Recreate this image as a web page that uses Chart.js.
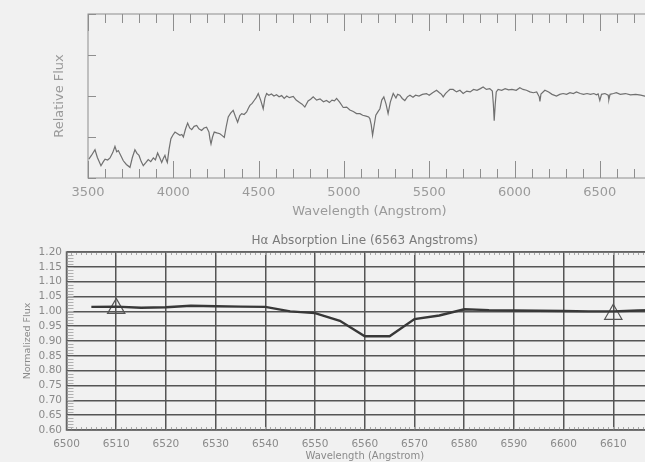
<!DOCTYPE html>
<html lang="en">
<head>
<meta charset="UTF-8">
<title>Spectrum and H-alpha line</title>
<script src="https://cdn.jsdelivr.net/npm/chart.js"></script>
<style>
    html, body { margin: 0; padding: 0; background: #f1f1f1; overflow: hidden; }
    body { width: 645px; height: 462px; position: relative; }
    canvas { position: absolute; left: 0; }
    #specChart { top: 0; }
    #haChart { top: 226px; }
</style>
</head>
<body>
<canvas id="specChart" width="660" height="226"></canvas>
<canvas id="haChart" width="700" height="236"></canvas>
<script>
// full spectrum (wavelength in Angstrom, relative flux)
const specWave = [
    3505, 3520, 3541, 3555, 3576, 3590, 3600, 3615, 3629, 3645,
    3658, 3668, 3678, 3692, 3707, 3725, 3746, 3760, 3775, 3787,
    3799, 3812, 3824, 3840, 3853, 3868, 3883, 3895, 3908, 3920,
    3932, 3942, 3951, 3958, 3965, 3975, 3986, 3998, 4010, 4025,
    4039, 4050, 4059, 4072, 4084, 4096, 4108, 4122, 4137, 4150,
    4166, 4180, 4195, 4209, 4215, 4221, 4230, 4240, 4255, 4273,
    4285, 4299, 4310, 4322, 4336, 4351, 4364, 4377, 4390, 4401,
    4415, 4430, 4440, 4449, 4462, 4474, 4486, 4498, 4512, 4527,
    4537, 4547, 4560, 4575, 4590, 4605, 4620, 4635, 4650, 4665,
    4680, 4703, 4720, 4740, 4755, 4771, 4790, 4805, 4820, 4840,
    4860, 4880, 4898, 4915, 4930, 4945, 4957, 4975, 4996, 5016,
    5035, 5055, 5074, 5094, 5110, 5130, 5145, 5152, 5160, 5168,
    5176, 5187, 5200, 5211, 5222, 5234, 5247, 5259, 5272, 5289,
    5305, 5315, 5328, 5342, 5357, 5372, 5387, 5405, 5420, 5440,
    5460, 5484, 5500, 5520, 5543, 5560, 5572, 5582, 5595, 5610,
    5621, 5640, 5660, 5680, 5699, 5720, 5740, 5760, 5780, 5800,
    5816, 5835, 5855, 5870, 5876, 5881, 5887, 5893, 5904, 5925,
    5945, 5965, 5985, 6010, 6031, 6050, 6070, 6090, 6110, 6130,
    6145, 6149, 6155, 6178, 6200, 6220, 6246, 6265, 6285, 6305,
    6325, 6345, 6363, 6385, 6405, 6425, 6445, 6465, 6480, 6490,
    6500, 6510, 6530, 6549, 6553, 6560, 6580, 6597, 6620, 6650,
    6680, 6710, 6740, 6770, 6800
];
const specFlux = [
    0.46, 0.55, 0.69, 0.50, 0.30, 0.40, 0.46, 0.44, 0.49, 0.62,
    0.77, 0.64, 0.67, 0.55, 0.42, 0.33, 0.26, 0.50, 0.69, 0.60,
    0.55, 0.40, 0.30, 0.38, 0.45, 0.40, 0.49, 0.44, 0.61, 0.50,
    0.38, 0.48, 0.55, 0.45, 0.38, 0.70, 0.96, 1.05, 1.12, 1.08,
    1.04, 1.06, 1.00, 1.20, 1.34, 1.22, 1.18, 1.26, 1.28, 1.20,
    1.16, 1.22, 1.24, 1.12, 0.95, 0.83, 1.00, 1.12, 1.10, 1.08,
    1.04, 0.99, 1.25, 1.49, 1.58, 1.65, 1.50, 1.36, 1.52, 1.57,
    1.55, 1.61, 1.70, 1.77, 1.82, 1.89, 1.96, 2.06, 1.90, 1.69,
    1.95, 2.06, 2.02, 2.05, 2.00, 2.03, 1.98, 2.01, 1.94, 2.00,
    1.96, 1.99, 1.90, 1.84, 1.80, 1.73, 1.88, 1.92, 1.98, 1.90,
    1.93, 1.86, 1.89, 1.84, 1.90, 1.88, 1.94, 1.85, 1.72, 1.73,
    1.66, 1.62, 1.57, 1.57, 1.53, 1.51, 1.49, 1.45, 1.30, 1.04,
    1.25, 1.53, 1.62, 1.69, 1.90, 1.98, 1.80, 1.57, 1.85, 2.06,
    1.95, 2.04, 2.02, 1.94, 1.89, 1.98, 2.02, 1.97, 2.02, 2.00,
    2.04, 2.06, 2.02, 2.08, 2.14, 2.08, 2.04, 1.98, 2.06, 2.12,
    2.16, 2.16, 2.10, 2.14, 2.06, 2.12, 2.10, 2.16, 2.14, 2.18,
    2.22, 2.16, 2.18, 2.12, 1.80, 1.40, 1.80, 2.10, 2.16, 2.14,
    2.18, 2.15, 2.16, 2.14, 2.20, 2.16, 2.14, 2.10, 2.08, 2.10,
    1.98, 1.87, 2.05, 2.14, 2.10, 2.04, 2.00, 2.04, 2.06, 2.04,
    2.08, 2.06, 2.10, 2.06, 2.04, 2.06, 2.04, 2.06, 2.03, 2.05,
    1.89, 2.04, 2.06, 2.02, 1.91, 2.04, 2.06, 2.08, 2.04, 2.06,
    2.03, 2.04, 2.02, 1.99, 1.98
];
const specTicks = [3500, 4000, 4500, 5000, 5500, 6000, 6500];
const specFluxTicks = [1, 2, 3];

// H-alpha zoom
const haWave = [6505, 6510, 6515, 6520, 6525, 6530, 6535, 6540, 6545, 6550, 6555, 6560,
                6565, 6570, 6575, 6580, 6585, 6590, 6595, 6600, 6605, 6610, 6615, 6620];
const haFlux = [1.015, 1.016, 1.012, 1.014, 1.019, 1.017, 1.016, 1.015, 1.000, 0.994, 0.968, 0.916,
                0.916, 0.974, 0.986, 1.007, 1.004, 1.003, 1.002, 1.001, 1.000, 1.000, 1.003, 1.005];
const contWave = [6510, 6610];
const contFlux = [1.01, 0.99];
const haXTicks = [6500, 6510, 6520, 6530, 6540, 6550, 6560, 6570, 6580, 6590, 6600, 6610, 6620];
const haYTicks = [0.60, 0.65, 0.70, 0.75, 0.80, 0.85, 0.90, 0.95, 1.00, 1.05, 1.10, 1.15, 1.20];

const FONT = '"DejaVu Sans", sans-serif';

// box round the plot area + inward tick marks (IDL style)
const frameTicks = {
    id: 'frameTicks',
    afterDatasetsDraw(chart, args, opts) {
        const { ctx, chartArea: a, scales } = chart;
        ctx.save();
        for (const t of opts.ticks || []) {
            const sc = scales[t.axis];
            const n = Math.round((sc.max - sc.min) / t.step);
            ctx.beginPath();
            ctx.strokeStyle = t.color;
            ctx.lineWidth = 1;
            for (let i = 0; i <= n; i++) {
                const p = Math.round(sc.getPixelForValue(sc.min + i * t.step)) + 0.5;
                if (t.axis === 'x') {
                    ctx.moveTo(p, a.bottom); ctx.lineTo(p, a.bottom - t.len);
                    ctx.moveTo(p, a.top); ctx.lineTo(p, a.top + t.len);
                } else {
                    ctx.moveTo(a.left, p); ctx.lineTo(a.left + t.len, p);
                }
            }
            ctx.stroke();
        }
        ctx.strokeStyle = opts.color;
        ctx.lineWidth = opts.width;
        ctx.strokeRect(a.left, a.top, a.right - a.left, a.bottom - a.top);
        ctx.restore();
    }
};

new Chart(document.getElementById('specChart'), {
    type: 'line',
    data: {
        datasets: [{
            data: specWave.map((w, i) => ({ x: w, y: specFlux[i] })),
            borderColor: '#707070',
            borderWidth: 1.2,
            pointRadius: 0,
            tension: 0
        }]
    },
    options: {
        responsive: false,
        animation: false,
        layout: { padding: { top: 14, right: 9, left: 0, bottom: 0 } },
        plugins: {
            legend: { display: false },
            tooltip: { enabled: false },
            frameTicks: {
                color: '#8e8e8e', width: 1,
                ticks: [
                    { axis: 'x', step: 500, len: 17, color: '#8e8e8e' },
                    { axis: 'x', step: 100, len: 9, color: '#8e8e8e' },
                    { axis: 'y', step: 1, len: 8, color: '#8e8e8e' }
                ]
            }
        },
        scales: {
            x: {
                type: 'linear', min: 3500, max: 6800,
                afterFit: s => { s.height = 48; },
                afterBuildTicks: s => { s.ticks = specTicks.map(v => ({ value: v })); },
                grid: { display: false, drawTicks: false },
                border: { display: false },
                ticks: { padding: 7, color: '#9a9a9a', font: { family: FONT, size: 13 }, callback: v => String(v), maxRotation: 0 },
                title: { display: true, text: 'Wavelength (Angstrom)', color: '#9a9a9a', font: { family: FONT, size: 13 }, padding: { top: 0, bottom: 7 } }
            },
            y: {
                min: 0, max: 4,
                afterFit: s => { s.width = 88; },
                afterBuildTicks: s => { s.ticks = specFluxTicks.map(v => ({ value: v })); },
                grid: { display: false, drawTicks: false },
                border: { display: false },
                ticks: { display: false },
                title: { display: true, text: 'Relative Flux', color: '#9a9a9a', font: { family: FONT, size: 13 }, padding: { top: 52, bottom: 0 } }
            }
        }
    },
    plugins: [frameTicks]
});

new Chart(document.getElementById('haChart'), {
    type: 'line',
    data: {
        datasets: [{
            data: haWave.map((w, i) => ({ x: w, y: haFlux[i] })),
            borderColor: '#383838',
            borderWidth: 2.4,
            pointRadius: 0,
            tension: 0
        }, {
            data: contWave.map((w, i) => ({ x: w, y: contFlux[i] })),
            showLine: false,
            pointStyle: 'triangle',
            pointRadius: 10,
            borderColor: '#555555',
            borderWidth: 1.2,
            backgroundColor: 'rgba(0,0,0,0)'
        }]
    },
    options: {
        responsive: false,
        animation: false,
        layout: { padding: { top: 0, right: 37, left: 0, bottom: 0 } },
        plugins: {
            legend: { display: false },
            tooltip: { enabled: false },
            frameTicks: {
                color: '#666666', width: 1.5,
                ticks: [
                    { axis: 'x', step: 1, len: 3, color: '#a8a8a8' },
                    { axis: 'y', step: 0.01, len: 7, color: '#b0b0b0' }
                ]
            }
        },
        scales: {
            x: {
                type: 'linear', min: 6500, max: 6620,
                afterFit: s => { s.height = 32; },
                afterBuildTicks: s => { s.ticks = haXTicks.map(v => ({ value: v })); },
                grid: { color: '#555555', lineWidth: 1.5, drawTicks: false },
                border: { display: false },
                ticks: { padding: 8, color: '#8a8a8a', font: { family: FONT, size: 10.5 }, callback: v => String(v), maxRotation: 0, autoSkip: false },
                title: { display: true, text: 'Wavelength (Angstrom)', color: '#8a8a8a', font: { family: FONT, size: 10 }, padding: { top: 0, bottom: 0 } }
            },
            top: {
                type: 'linear', position: 'top', axis: 'x', min: 6500, max: 6620,
                afterFit: s => { s.height = 26; },
                grid: { display: false, drawTicks: false },
                border: { display: false },
                ticks: { display: false },
                title: { display: true, text: 'H\u03b1 Absorption Line (6563 Angstroms)', color: '#7a7a7a', font: { family: FONT, size: 12 }, padding: { top: 8, bottom: 0 } }
            },
            y: {
                min: 0.6, max: 1.2,
                afterFit: s => { s.width = 66.5; },
                afterBuildTicks: s => { s.ticks = haYTicks.map(v => ({ value: v })); },
                grid: { color: '#555555', lineWidth: 1.5, drawTicks: false },
                border: { display: false },
                ticks: { padding: 4.5, color: '#8a8a8a', font: { family: FONT, size: 10.5 }, callback: v => v.toFixed(2), autoSkip: false },
                title: { display: true, text: 'Normalized Flux', color: '#8a8a8a', font: { family: FONT, size: 9.5 }, padding: { top: 22, bottom: 0 } }
            }
        }
    },
    plugins: [frameTicks]
});
</script>
</body>
</html>
